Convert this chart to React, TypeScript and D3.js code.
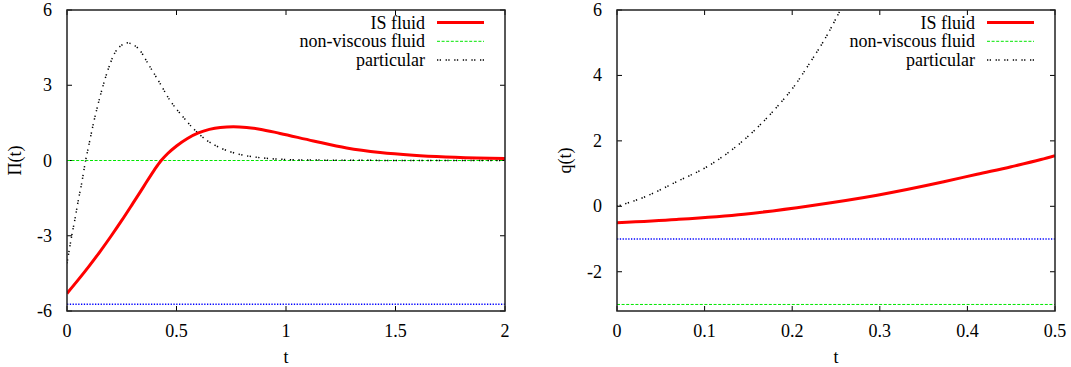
import React from "react";
import * as d3 from "d3";

// ---------- Left panel data: Π(t) ----------
const leftIsT = [0, 0.05, 0.1, 0.15, 0.2, 0.25, 0.3, 0.35, 0.4, 0.43, 0.46, 0.5, 0.55, 0.6, 0.65, 0.7, 0.76, 0.82, 0.88, 0.973, 1.125, 1.277, 1.43, 1.58, 1.73, 1.93, 2.0];
const leftIsV = [-5.3, -4.77, -4.22, -3.64, -3.03, -2.39, -1.72, -1.04, -0.36, 0.0, 0.28, 0.58, 0.88, 1.1, 1.24, 1.32, 1.35, 1.32, 1.25, 1.08, 0.78, 0.5, 0.32, 0.21, 0.14, 0.09, 0.08];

const leftPartT = [0, 0.021, 0.037, 0.052, 0.067, 0.085, 0.1, 0.12, 0.151, 0.181, 0.219, 0.25, 0.273, 0.3, 0.326, 0.379, 0.425, 0.47, 0.524, 0.577, 0.638, 0.714, 0.79, 0.874, 0.973, 1.1, 1.3, 1.6, 2.0];
const leftPartV = [-4.1, -3.03, -2.3, -1.57, -0.91, 0.0, 0.62, 1.45, 2.55, 3.45, 4.3, 4.6, 4.69, 4.63, 4.46, 3.73, 3.07, 2.4, 1.8, 1.27, 0.81, 0.45, 0.24, 0.12, 0.05, 0.02, 0.01, 0.0, 0.0];

const leftNonViscous = 0;
const leftBlueLevel = -5.73;

const leftXTicks = [0, 0.5, 1, 1.5, 2];
const leftYTicks = [-6, -3, 0, 3, 6];

// ---------- Right panel data: q(t) ----------
const rightIsT = [0, 0.068, 0.145, 0.221, 0.297, 0.373, 0.411, 0.45, 0.484, 0.5];
const rightIsV = [-0.5, -0.4, -0.24, 0.02, 0.34, 0.75, 0.98, 1.21, 1.43, 1.55];

const rightPartT = [0, 0.03, 0.068, 0.106, 0.145, 0.183, 0.202, 0.221, 0.24, 0.249, 0.255];
const rightPartV = [0, 0.27, 0.75, 1.26, 2.03, 3.05, 3.66, 4.42, 5.24, 5.69, 6.0];

const rightNonViscous = -3;
const rightBlueLevel = -1;

const rightXTicks = [0, 0.1, 0.2, 0.3, 0.4, 0.5];
const rightYTicks = [-2, 0, 2, 4, 6];

const legendLabels = ["IS fluid", "non-viscous fluid", "particular"];

const FONT = "Liberation Serif, Times New Roman, Times, DejaVu Serif, serif";
const FS = 18;

const RED = { stroke: "#ff0000", width: 3, dash: undefined as string | undefined };
const GREEN = { stroke: "#00e600", width: 1, dash: "3,1.6" };
const BLACK = { stroke: "#000000", width: 1.5, dash: "1.3,1.4,1.3,4.6" };
const BLUE = { stroke: "#0000ff", width: 1.5, dash: "1.3,1.5" };

const textStyle = { fontFamily: FONT, fontSize: FS } as React.CSSProperties;

type PanelProps = {
  id: string;
  x0: number;
  x1: number;
  y0: number;
  y1: number;
  xDomain: [number, number];
  yDomain: [number, number];
  xTicks: number[];
  yTicks: number[];
  yLabel: string;
  isT: number[];
  isV: number[];
  partT: number[];
  partV: number[];
  nonViscous: number;
  blueLevel: number;
};

function Panel(p: PanelProps) {
  const x = d3.scaleLinear().domain(p.xDomain).range([p.x0, p.x1]);
  const y = d3.scaleLinear().domain(p.yDomain).range([p.y1, p.y0]);
  const line = d3
    .line<[number, number]>()
    .x((d) => x(d[0]))
    .y((d) => y(d[1]))
    .curve(d3.curveMonotoneX);
  const isPath = line(p.isT.map((t, i) => [t, p.isV[i]] as [number, number])) || "";
  const partPath = line(p.partT.map((t, i) => [t, p.partV[i]] as [number, number])) || "";
  const tick = 5;
  const legendRight = p.x1 - 80;
  const sampleX0 = p.x1 - 68;
  const sampleX1 = p.x1 - 21;
  const rows = [22.5, 41.3, 60];
  const styles = [RED, GREEN, BLACK];
  return (
    <g>
      <defs>
        <clipPath id={p.id}>
          <rect x={p.x0} y={p.y0} width={p.x1 - p.x0} height={p.y1 - p.y0} />
        </clipPath>
      </defs>
      {/* ticks */}
      {p.xTicks.map((v) => (
        <g key={"xt" + v}>
          <line x1={x(v)} x2={x(v)} y1={p.y1} y2={p.y1 - tick} stroke="#000" strokeWidth={1} />
          <line x1={x(v)} x2={x(v)} y1={p.y0} y2={p.y0 + tick} stroke="#000" strokeWidth={1} />
          <text x={x(v)} y={p.y1 + 26} textAnchor="middle" style={textStyle} fill="#000">
            {String(v)}
          </text>
        </g>
      ))}
      {p.yTicks.map((v) => (
        <g key={"yt" + v}>
          <line x1={p.x0} x2={p.x0 + tick} y1={y(v)} y2={y(v)} stroke="#000" strokeWidth={1} />
          <line x1={p.x1} x2={p.x1 - tick} y1={y(v)} y2={y(v)} stroke="#000" strokeWidth={1} />
          <text x={p.x0 - 15} y={y(v) + 6} textAnchor="end" style={textStyle} fill="#000">
            {String(v)}
          </text>
        </g>
      ))}
      {/* axis labels */}
      <text x={(p.x0 + p.x1) / 2} y={p.y1 + 52} textAnchor="middle" style={textStyle} fill="#000">
        t
      </text>
      <text
        transform={`translate(${p.x0 - 46},${(p.y0 + p.y1) / 2}) rotate(-90)`}
        textAnchor="middle"
        style={textStyle}
        fill="#000"
      >
        {p.yLabel}
      </text>
      {/* curves */}
      <g clipPath={`url(#${p.id})`}>
        <line x1={p.x0} x2={p.x1} y1={y(p.blueLevel)} y2={y(p.blueLevel)} stroke={BLUE.stroke} strokeWidth={BLUE.width} strokeDasharray={BLUE.dash} />
        <line x1={p.x0} x2={p.x1} y1={y(p.nonViscous)} y2={y(p.nonViscous)} stroke={GREEN.stroke} strokeWidth={GREEN.width} strokeDasharray={GREEN.dash} />
        <path d={partPath} fill="none" stroke={BLACK.stroke} strokeWidth={BLACK.width} strokeDasharray={BLACK.dash} />
        <path d={isPath} fill="none" stroke={RED.stroke} strokeWidth={RED.width} strokeLinejoin="round" />
      </g>
      {/* legend */}
      {legendLabels.map((lab, i) => (
        <g key={lab}>
          <text x={legendRight} y={rows[i] + 6} textAnchor="end" style={textStyle} fill="#000">
            {lab}
          </text>
          <line
            x1={sampleX0}
            x2={sampleX1}
            y1={rows[i]}
            y2={rows[i]}
            stroke={styles[i].stroke}
            strokeWidth={styles[i].width}
            strokeDasharray={styles[i].dash}
          />
        </g>
      ))}
      {/* border */}
      <rect x={p.x0} y={p.y0} width={p.x1 - p.x0} height={p.y1 - p.y0} fill="none" stroke="#222" strokeWidth={1.5} />
    </g>
  );
}

export default function App() {
  return (
    <svg width={1071} height={367} style={{ position: "absolute", left: 0, top: 0, background: "#fff" }}>
      <rect x={0} y={0} width={1071} height={367} fill="#fff" />
      <Panel
        id="clipL"
        x0={67}
        x1={505}
        y0={10}
        y1={311}
        xDomain={[0, 2]}
        yDomain={[-6, 6]}
        xTicks={leftXTicks}
        yTicks={leftYTicks}
        yLabel="Π(t)"
        isT={leftIsT}
        isV={leftIsV}
        partT={leftPartT}
        partV={leftPartV}
        nonViscous={leftNonViscous}
        blueLevel={leftBlueLevel}
      />
      <Panel
        id="clipR"
        x0={617}
        x1={1055}
        y0={10}
        y1={311}
        xDomain={[0, 0.5]}
        yDomain={[-3.2, 6]}
        xTicks={rightXTicks}
        yTicks={rightYTicks}
        yLabel="q(t)"
        isT={rightIsT}
        isV={rightIsV}
        partT={rightPartT}
        partV={rightPartV}
        nonViscous={rightNonViscous}
        blueLevel={rightBlueLevel}
      />
    </svg>
  );
}
